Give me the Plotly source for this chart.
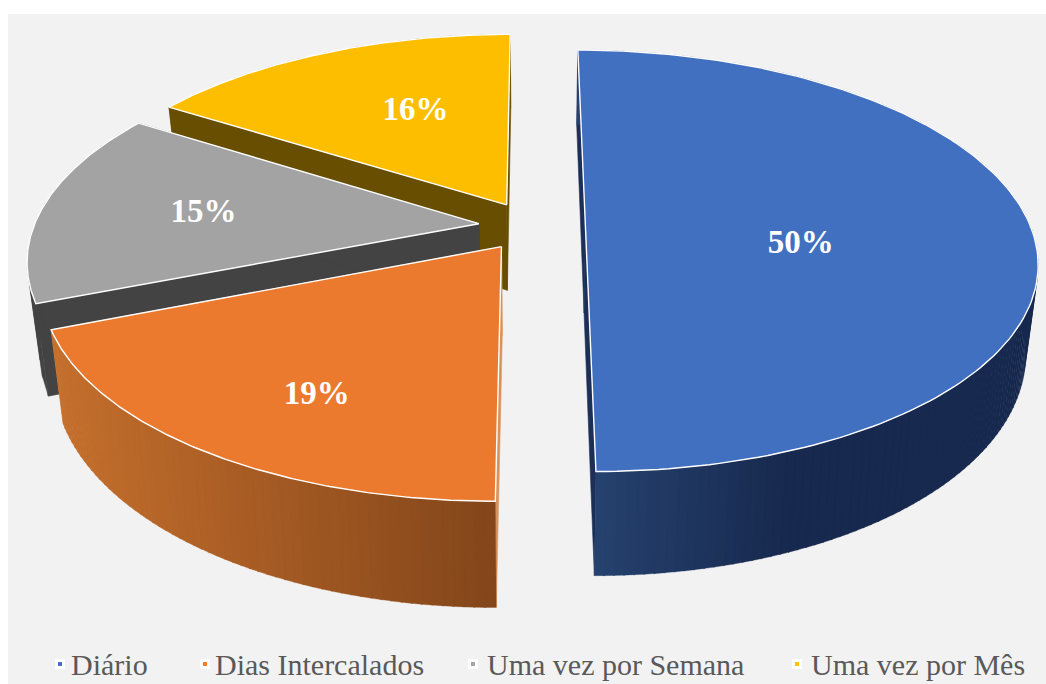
import math
import plotly.graph_objects as go

categories = ["Diário", "Dias Intercalados", "Uma vez por Semana", "Uma vez por Mês"]
percent_values = [50, 19, 15, 16]
top_colors = ["#4270C1", "#EB7A2F", "#A3A3A3", "#FDBE00"]
legend_colors = ["#4472C4", "#ED7D31", "#A5A5A5", "#FFC000"]

# drawing geometry of the tilted pie
CX, CY, A, B, K = 532, 226, 445, 205, 0.165
EXPLODE, DEPTH, SHRINK = 0.12, 87, 0.025
cut_colors = ["#1B2F57", "#D9925A", "#434343", "#674E00"]
side_left = ["#26426F", "#C6702D", "#434343", "#674E00"]
side_right = ["#17294E", "#84461A", "#434343", "#674E00"]
side_x_span = [(597, 790), (55, 494), (0, 1), (0, 1)]
strip_count = [160, 60, 12, 12]
label_r = [0.484, 0.65, 0.63, 0.47]
label_dy = [19, 24, 2, -17]
legend_x = [60, 205, 473, 797]
legend_text_x = [71, 215, 487, 811]


def project(u, v, low=False):
    s = 1 / (1 + K * v)
    if low:
        return CX + A * u * s * (1 - SHRINK), CY - B * v * s + DEPTH * s
    return CX + A * u * s, CY - B * v * s


def mix(c1, c2, f):
    f = max(0.0, min(1.0, f))
    a = [int(c1[i:i + 2], 16) for i in (1, 3, 5)]
    b = [int(c2[i:i + 2], 16) for i in (1, 3, 5)]
    return "rgb(%d,%d,%d)" % tuple(round(p + (q - p) * f) for p, q in zip(a, b))


fig = go.Figure()


def poly(pts, fill, line=None, width=0.6):
    fig.add_trace(go.Scatter(
        x=[p[0] for p in pts] + [pts[0][0]], y=[p[1] for p in pts] + [pts[0][1]],
        mode="lines", fill="toself", fillcolor=fill,
        line=dict(color=line or fill, width=width), hoverinfo="skip", showlegend=False))


total = sum(percent_values)
spans, start = [], 0.0
for val in percent_values:
    spans.append((start, start + 2 * math.pi * val / total))
    start = spans[-1][1]

label_xy = [None] * len(percent_values)
for i in [3, 2, 1, 0]:
    t0, t1 = spans[i]
    mid = (t0 + t1) / 2
    ou, ov = EXPLODE * math.sin(mid), EXPLODE * math.cos(mid)
    rim = lambda t: (ou + math.sin(t), ov + math.cos(t))
    for t in (t0, t1):
        r = rim(t)
        poly([project(ou, ov), project(*r), project(*r, low=True), project(ou, ov, low=True)], cut_colors[i])
    n = strip_count[i]
    for j in range(n):
        a0, a1 = t0 + (t1 - t0) * j / n, t0 + (t1 - t0) * (j + 1.15) / n
        a1 = min(a1, t1)
        r0, r1 = rim(a0), rim(a1)
        xm = project(*r0, low=True)[0]
        xa, xb = side_x_span[i]
        poly([project(*r0), project(*r1), project(*r1, low=True), project(*r0, low=True)],
             mix(side_left[i], side_right[i], (xm - xa) / (xb - xa)), width=0.3)
    top = [project(ou, ov)] + [project(*rim(t0 + (t1 - t0) * j / 160)) for j in range(161)]
    poly(top, top_colors[i], line="#FFFFFF", width=1.4)
    lu = ou + label_r[i] * math.sin(mid)
    lv = ov + label_r[i] * math.cos(mid)
    px, py = project(lu, lv)
    label_xy[i] = (px, py + label_dy[i])

fig.add_trace(go.Scatter(
    x=[p[0] for p in label_xy], y=[p[1] for p in label_xy], mode="text",
    text=["%d%%" % v for v in percent_values],
    textfont=dict(family="Liberation Serif", size=33, color="#FFFFFF", weight="bold"),
    hoverinfo="skip", showlegend=False))

LEG_Y = 664
fig.add_trace(go.Scatter(
    x=legend_x, y=[LEG_Y] * 4, mode="markers",
    marker=dict(symbol="square", size=7, color=legend_colors, line=dict(color="#FFFFFF", width=3)),
    hoverinfo="skip", showlegend=False))
fig.add_trace(go.Scatter(
    x=legend_text_x, y=[LEG_Y + 3] * 4, mode="text", text=categories, textposition="middle right",
    textfont=dict(family="Liberation Serif", size=30, color="#595959"),
    hoverinfo="skip", showlegend=False))

fig.update_layout(
    width=1046, height=684, autosize=False,
    margin=dict(l=8, r=0, t=14, b=0),
    paper_bgcolor="#FFFFFF", plot_bgcolor="#F2F2F2",
    xaxis=dict(range=[8, 1046], visible=False, fixedrange=True),
    yaxis=dict(range=[684, 14], visible=False, fixedrange=True),
)
fig.write_html("out.html", config={"displayModeBar": False},
               post_script="document.body.style.margin='0';document.body.style.overflow='hidden';")
